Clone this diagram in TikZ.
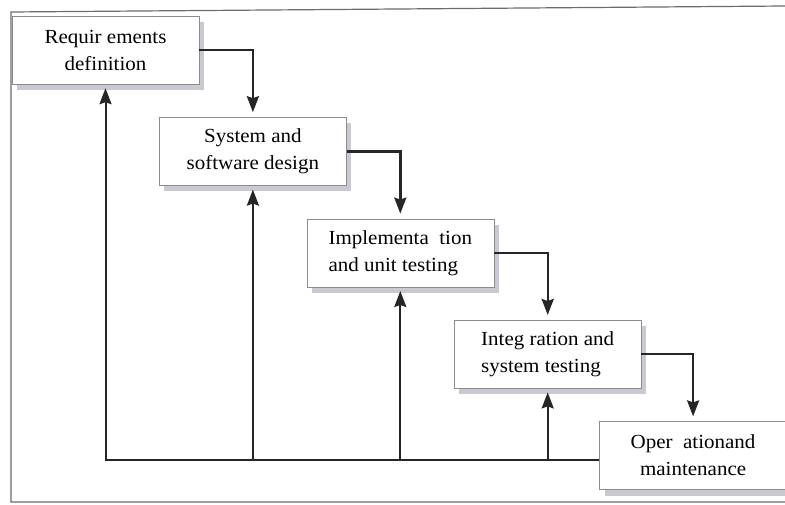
\documentclass[tikz,border=0pt]{standalone}
\usepackage{fontspec}
\setmainfont{Liberation Serif}[FakeStretch=1.05]
\usepackage{xcolor}
\usepackage{tikz}
\usetikzlibrary{arrows.meta}
\usetikzlibrary{shadows}
\usetikzlibrary{positioning}
\definecolor{linegray}{HTML}{262626}
\definecolor{boxgray}{HTML}{8C8C8C}
\definecolor{shadowgray}{HTML}{C9C9D1}

\begin{document}
\begin{tikzpicture}[x=1pt,y=-1pt,>={Stealth[length=16pt,width=12pt,inset=2pt]},semithick]
	\tikzstyle{phase}=[draw=boxgray, thin, fill=white, minimum width=187pt, minimum height=68pt, font=\fontsize{20}{27}\selectfont, align=center, general shadow={fill=shadowgray, shadow xshift=5pt, shadow yshift=-6pt}]
	\tikzstyle{flow}=[->, draw=linegray, line width=2.4pt, shorten >=5pt]
	\tikzstyle{back}=[->, draw=linegray, line width=2pt, shorten >=4pt]
	\useasboundingbox (0,0) rectangle (785,505);
	\draw[gray!85!black, line width=1.2pt] (785,6) -- (11,12) -- (11,502) -- (785,502);
		\node[phase]	(R) at (105.5,50)	{Requir ements\\definition};
		\node[phase]	(D) [below right=33pt and -40pt of R]	{System and\\software design};
		\node[phase, align=left]	(I) [below right=33pt and -40pt of D]	{Implementa\ \ tion\\and unit testing};
		\node[phase, align=left]	(T) [below right=33pt and -40pt of I]	{Integ ration and\\system testing};
		\node[phase]	(O) [below right=33pt and -42pt of T]	{Oper\ \ ationand\\maintenance};
	\coordinate (F) at ([yshift=-4pt]O.west);
	% down the waterfall
	\draw[flow] (R.east) -| (D.north);
	\draw[flow] (D.east) -| (I.north);
	\draw[flow] (I.east) -| (T.north);
	\draw[flow] (T.east) -| (O.north);
	% back up
	\draw[back] (F) -| (R.south);
	\foreach \n in {D,I,T}
		\draw[back] (\n.south |- F) -- (\n.south);
\end{tikzpicture}
\end{document}
